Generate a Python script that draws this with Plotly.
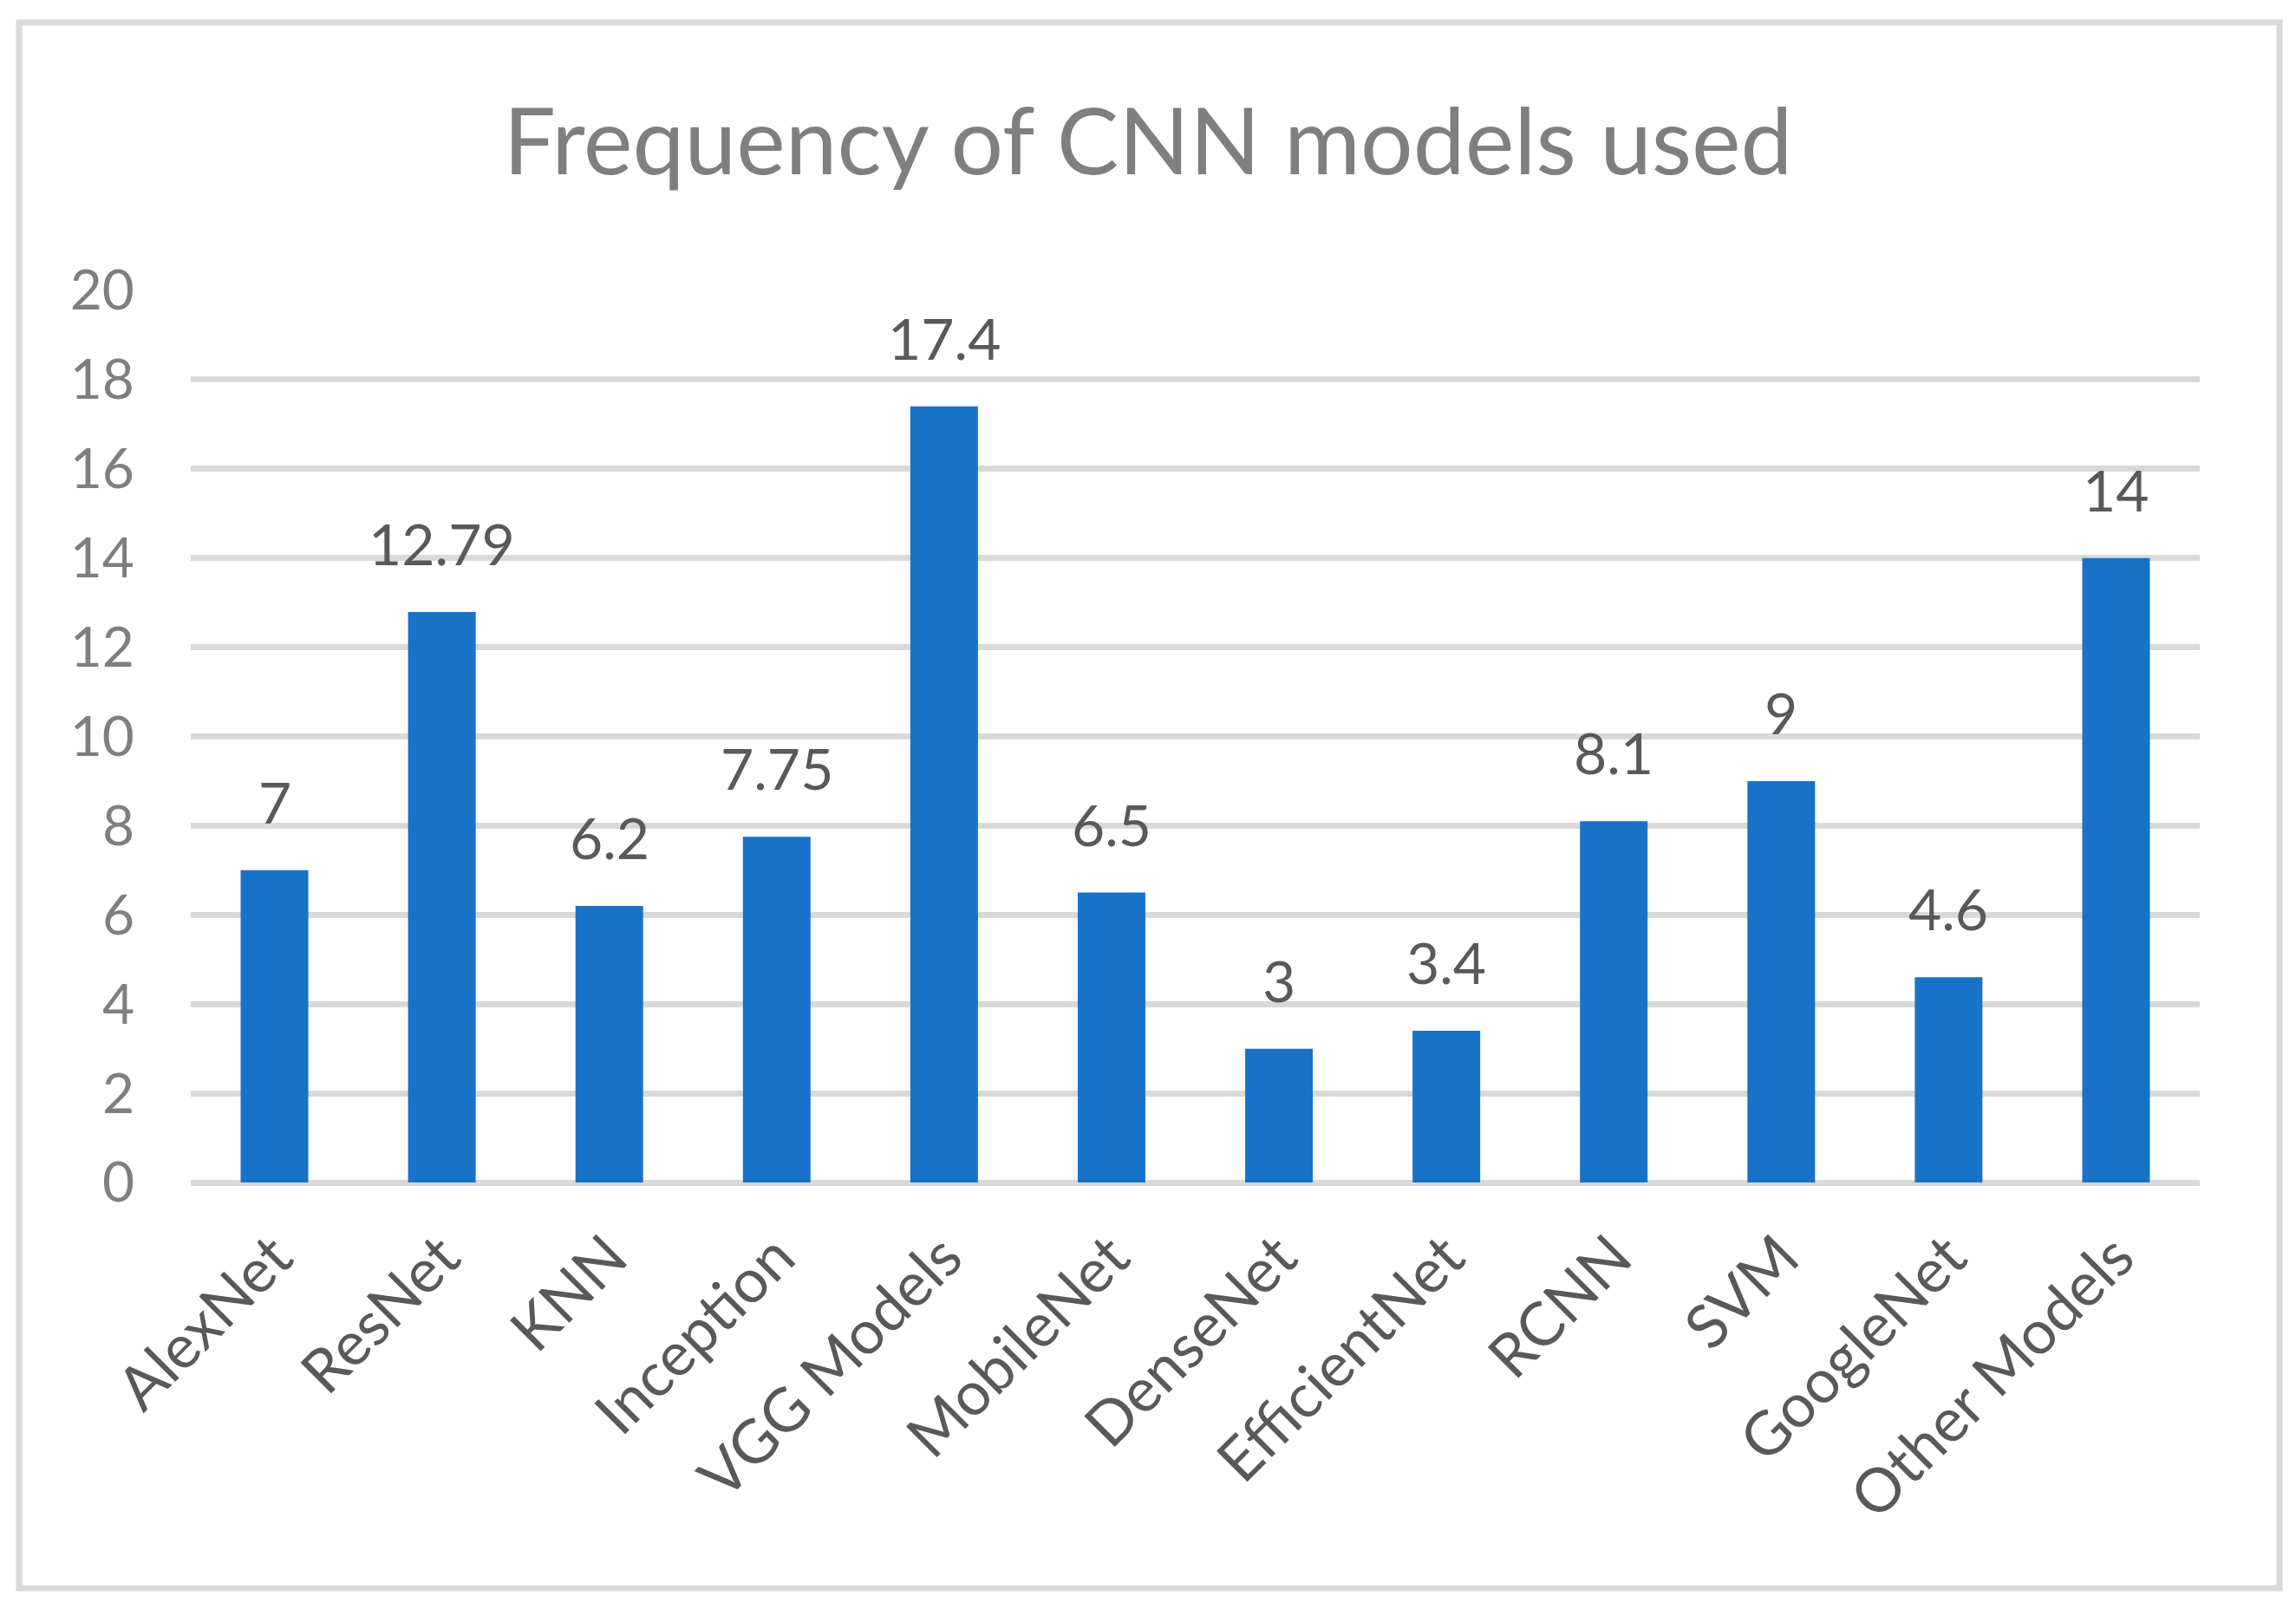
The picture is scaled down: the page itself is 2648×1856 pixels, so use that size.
import plotly.graph_objects as go

categories = ["AlexNet", "ResNet", "KNN", "Inception", "VGG Models", "MobileNet",
              "DenseNet", "EfficientNet", "RCNN", "SVM", "GoogleNet", "Other Models"]
values = [7, 12.79, 6.2, 7.75, 17.4, 6.5, 3, 3.4, 8.1, 9, 4.6, 14]
y_ticks = [0, 2, 4, 6, 8, 10, 12, 14, 16, 18, 20]
title_text = "Frequency of CNN models used"

FONT = "Lato"
# page has an 8px body margin, so the figure is 8px smaller and shifted
W, H = 2640, 1848
ml, mr, mt, mb = 212, 111, 327, 492
pw, ph = W - ml - mr, H - mt - mb

fig = go.Figure()
fig.add_trace(go.Bar(
    x=categories, y=values,
    marker=dict(color="#1873C8", line=dict(width=0)),
    hoverinfo="skip",
))

annotations = [
    dict(x=c, y=v, xref="x", yref="y", text=str(v), showarrow=False,
         yanchor="bottom", yshift=38,
         font=dict(family=FONT, size=66, color="#595959"))
    for c, v in zip(categories, values)
]

fig.update_layout(
    width=W, height=H,
    margin=dict(l=ml, r=mr, t=mt, b=mb, autoexpand=False),
    paper_bgcolor="white", plot_bgcolor="white",
    showlegend=False,
    bargap=0.596,
    title=dict(text=title_text, x=(1324 - 8) / W, xanchor="center",
               y=1 - 156 / H, yanchor="middle", yref="container",
               font=dict(family=FONT, size=107, color="#7F7F7F")),
    annotations=annotations,
    shapes=[dict(type="rect", xref="paper", yref="paper",
                 x0=(14 - ml) / pw, x1=(2621 - ml) / pw,
                 y0=(mt + ph - 1824) / ph, y1=(mt + ph - 18) / ph,
                 line=dict(color="#D9D9D9", width=7), fillcolor="rgba(0,0,0,0)",
                 layer="below")],
)

fig.update_xaxes(
    tickangle=-45, showgrid=False, showline=False, ticks="",
    ticklabelstandoff=30,
    tickfont=dict(family=FONT, size=70, color="#595959"),
)
fig.update_yaxes(
    range=[0, 20], tickvals=y_ticks, showgrid=True,
    gridcolor="#D9D9D9", gridwidth=6.5,
    zeroline=True, zerolinecolor="#D9D9D9", zerolinewidth=6.5,
    showline=False, ticks="", ticklabelstandoff=64,
    tickfont=dict(family=FONT, size=64, color="#7F7F7F"),
)

fig.write_html("out.html")
